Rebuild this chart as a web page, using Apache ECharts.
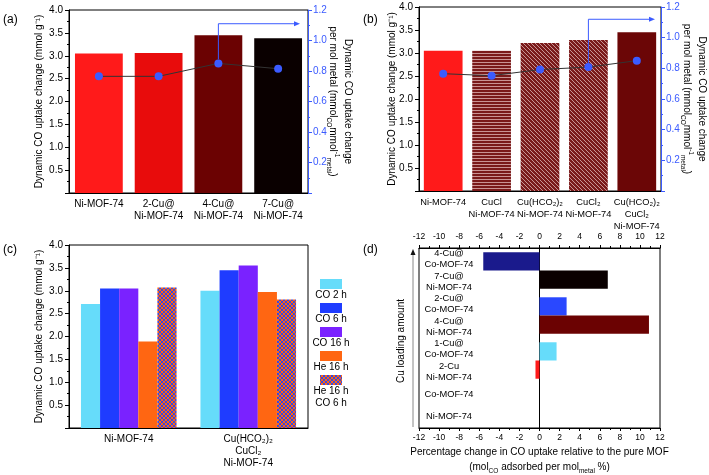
<!DOCTYPE html>
<html><head><meta charset="utf-8">
<script src="https://cdn.jsdelivr.net/npm/echarts@6/dist/echarts.min.js"></script>
<style>html,body{margin:0;padding:0;background:#fff}#c{width:709px;height:475px}</style>
</head><body><div id="c"></div>
<script>
// ---------- data ----------
const aCats = ['Ni-MOF-74', '2-Cu@\nNi-MOF-74', '4-Cu@\nNi-MOF-74', '7-Cu@\nNi-MOF-74'];
const aBars = [3.05, 3.06, 3.45, 3.38];
const aPerMetal = [0.765, 0.765, 0.85, 0.815];
const aColors = ['#ff1a1a', '#e80c0c', '#6b0202', '#0a0000'];

const bCats = ['Ni-MOF-74', 'CuCl\nNi-MOF-74', 'Cu(HCO₂)₂\nNi-MOF-74', 'CuCl₂\nNi-MOF-74', 'Cu(HCO₂)₂\nCuCl₂\nNi-MOF-74'];
const bBars = [3.05, 3.05, 3.22, 3.28, 3.45];
const bPerMetal = [0.765, 0.752, 0.792, 0.808, 0.85];
const bColors = ['#ff1a1a', '#7a1a1a', '#7a1a1a', '#7a1a1a', '#6b0606'];
const bPatterns = ['none', 'horizontal', 'diagonal', 'diagonal', 'none'];

const cCats = ['Ni-MOF-74', 'Cu(HCO₂)₂\nCuCl₂\nNi-MOF-74'];
const cNames = ['CO 2 h', 'CO 6 h', 'CO 16 h', 'He 16 h', 'He 16 h\nCO 6 h'];
const cCO2h = [2.71, 3.00];
const cCO6h = [3.05, 3.45];
const cCO16h = [3.05, 3.55];
const cHe16h = [1.89, 2.97];
const cHeCO = [3.07, 2.81];
const cColors = ['#66dcfa', '#1f3cff', '#7a22ff', '#ff6612', '#ff6612'];

// bottom to top
const dLabels = ['Ni-MOF-74', 'Co-MOF-74', '2-Cu\nNi-MOF-74', '1-Cu@\nCo-MOF-74', '4-Cu@\nNi-MOF-74', '2-Cu@\nCo-MOF-74', '7-Cu@\nNi-MOF-74', '4-Cu@\nCo-MOF-74'];
const dValues = [0, 0, -0.4, 1.7, 10.9, 2.7, 6.8, -5.6];
const dColors = ['#ff1a1a', '#66dcfa', '#ff1a1a', '#66dcfa', '#6b0202', '#2a48ff', '#0a0000', '#1a1a8c'];

const arrowLevelA = 1.11, arrowLevelB = 1.12;

// ---------- helpers ----------
const FF = '"Liberation Sans", Arial, Helvetica, sans-serif';
const BLUE = '#3b5bff';
const A = {left: 69, top: 10, width: 239, height: 183};
const B = {left: 419, top: 7, width: 242, height: 184};
const C = {left: 69, top: 245, width: 239, height: 183};
const D = {left: 419, top: 248, width: 241, height: 180};

function pattern(kind, bg, fg) {
  const cv = document.createElement('canvas');
  const n = kind === 'horizontal' ? 3 : 4;
  cv.width = n; cv.height = n;
  const g = cv.getContext('2d');
  g.fillStyle = bg; g.fillRect(0, 0, n, n);
  g.fillStyle = fg;
  if (kind === 'horizontal') g.fillRect(0, 2, n, 1);
  else if (kind === 'diagonal') { for (let i = 0; i < n; i++) g.fillRect(i, i, 1, 1); }
  else if (kind === 'cross') { for (let i = 0; i < n; i++) { g.fillRect(i, i, 1, 1); g.fillRect(n - 1 - i, i, 1, 1); } }
  return {image: cv, repeat: 'repeat'};
}

const lbl = {fontSize: 10, color: '#000', fontFamily: FF};
function leftAxis(gi, name, gap) {
  return {
    gridIndex: gi, type: 'value', position: 'left', min: 0, max: 4, interval: 0.5,
    axisLine: {show: true, lineStyle: {color: '#000'}},
    axisTick: {show: true, inside: false, length: 4, lineStyle: {color: '#000'}},
    minorTick: {show: true, splitNumber: 2, length: 2, lineStyle: {color: '#000'}},
    splitLine: {show: false},
    axisLabel: Object.assign({margin: 6, formatter: v => v === 0 ? '' : v.toFixed(1)}, lbl),
    name: name, nameLocation: 'middle', nameRotate: 90, nameGap: gap, nameMoveOverlap: false,
    nameTextStyle: Object.assign({}, lbl)
  };
}
const rightName = '{t|Dynamic CO uptake change}\n{t|per mol metal (mmol}{s|CO}{t|mmol}{u|-1}{s|metal}{t|)}';
const richName = {
  t: {fontSize: 10, lineHeight: 15, fontFamily: FF, color: '#000'},
  s: {fontSize: 6.5, lineHeight: 8, fontFamily: FF, color: '#000', verticalAlign: 'bottom'},
  u: {fontSize: 6.5, lineHeight: 8, fontFamily: FF, color: '#000', verticalAlign: 'top'}
};
function rightAxis(gi, gap) {
  return {
    gridIndex: gi, type: 'value', position: 'right', min: 0, max: 1.2, interval: 0.2,
    axisLine: {show: true, lineStyle: {color: BLUE}},
    axisTick: {show: true, inside: false, length: 4, lineStyle: {color: BLUE}},
    minorTick: {show: true, splitNumber: 2, length: 2, lineStyle: {color: BLUE}},
    splitLine: {show: false},
    axisLabel: {fontSize: 10, color: BLUE, fontFamily: FF, margin: 5, formatter: v => v === 0 ? '' : v.toFixed(1)},
    name: rightName, nameLocation: 'middle', nameRotate: -90, nameGap: gap, nameMoveOverlap: false,
    nameTextStyle: {rich: richName, fontSize: 10, fontFamily: FF, color: '#000'}
  };
}
function catAxis(gi, data, fs) {
  return {
    gridIndex: gi, type: 'category', data: data,
    axisLine: {show: true, lineStyle: {color: '#000'}}, axisTick: {show: false},
    axisLabel: Object.assign({}, lbl, {margin: 5, lineHeight: 12, interval: 0, fontSize: fs || 10})
  };
}
function dValAxis(pos) {
  return {
    gridIndex: 3, type: 'value', position: pos, min: -12, max: 12, interval: 2,
    axisLine: {show: true, onZero: false, lineStyle: {color: '#000'}},
    axisTick: {show: true, inside: false, length: 3, lineStyle: {color: '#000'}},
    minorTick: {show: true, splitNumber: 2, length: 2, lineStyle: {color: '#000'}},
    splitLine: {show: false},
    axisLabel: {fontSize: 8.5, color: '#000', fontFamily: FF, margin: pos === 'top' ? 7 : 5}
  };
}
const gridBase = {show: true, borderColor: '#000', borderWidth: 1, backgroundColor: 'transparent', containLabel: false, outerBoundsMode: 'none'};

const chart = echarts.init(document.getElementById('c'), null, {renderer: 'canvas'});

const cVals = [cCO2h, cCO6h, cCO16h, cHe16h, cHeCO];
const dUpper = [], dLower = [];
for (let k = 0; k < 4; k++) {
  dLower.push({value: dValues[2 * k], itemStyle: {color: dColors[2 * k]}});
  dUpper.push({value: dValues[2 * k + 1], itemStyle: {color: dColors[2 * k + 1]}});
}

const option = {
  animation: false,
  backgroundColor: '#fff',
  textStyle: {fontFamily: FF},
  grid: [Object.assign({}, gridBase, A), Object.assign({}, gridBase, B), Object.assign({}, gridBase, C), Object.assign({}, gridBase, D)],
  xAxis: [catAxis(0, aCats), catAxis(1, bCats, 9.3), catAxis(2, cCats),
    Object.assign(dValAxis('bottom'), {
      name: 'Percentage change in CO uptake relative to the pure MOF\n(mol{s|CO} adsorbed per mol{s|metal} %)',
      nameLocation: 'middle', nameGap: 17,
      nameTextStyle: {fontSize: 10, lineHeight: 15, fontFamily: FF, color: '#000',
        rich: {s: {fontSize: 6.5, lineHeight: 8, fontFamily: FF, color: '#000', verticalAlign: 'bottom'}}}
    }),
    dValAxis('top')],
  yAxis: [
    leftAxis(0, 'Dynamic CO uptake change (mmol g⁻¹)', 25), rightAxis(0, 17),
    leftAxis(1, 'Dynamic CO uptake change (mmol g⁻¹)', 22), rightAxis(1, 18),
    leftAxis(2, 'Dynamic CO uptake change (mmol g⁻¹)', 25),
    {gridIndex: 3, type: 'category', data: ['p0', 'p1', 'p2', 'p3'], position: 'left',
      axisLine: {show: true, onZero: true, lineStyle: {color: '#000'}}, axisTick: {show: false}, axisLabel: {show: false}},
    {gridIndex: 3, type: 'category', data: dLabels, position: 'left',
      axisLine: {show: false, onZero: false}, axisTick: {show: false},
      axisLabel: {inside: true, margin: 30, align: 'center', fontSize: 9.3, lineHeight: 11, color: '#000', fontFamily: FF, interval: 0}}
  ],
  series: [
    {type: 'bar', xAxisIndex: 0, yAxisIndex: 0, barCategoryGap: '20%',
      data: aBars.map((v, i) => ({value: v, itemStyle: {color: aColors[i]}}))},
    {type: 'line', xAxisIndex: 0, yAxisIndex: 1, data: aPerMetal, symbol: 'circle', symbolSize: 8,
      itemStyle: {color: BLUE}, lineStyle: {color: '#333', width: 1}, z: 5},
    {type: 'bar', xAxisIndex: 1, yAxisIndex: 2, barCategoryGap: '20%',
      data: bBars.map((v, i) => ({value: v, itemStyle: {color: bPatterns[i] === 'none' ? bColors[i] : pattern(bPatterns[i], bColors[i], '#c99494')}}))},
    {type: 'line', xAxisIndex: 1, yAxisIndex: 3, data: bPerMetal, symbol: 'circle', symbolSize: 8,
      itemStyle: {color: BLUE}, lineStyle: {color: '#333', width: 1}, z: 5},
    ...cVals.map((vals, i) => ({type: 'bar', name: cNames[i], xAxisIndex: 2, yAxisIndex: 4, barGap: '0%', barCategoryGap: '20%',
      data: vals, itemStyle: {color: i === 4 ? pattern('cross', cColors[i], '#3a48e0') : cColors[i]}})),
    {type: 'bar', xAxisIndex: 3, yAxisIndex: 5, barGap: '0%', barCategoryGap: '19%', data: dUpper},
    {type: 'bar', xAxisIndex: 3, yAxisIndex: 5, barGap: '0%', barCategoryGap: '19%', data: dLower}
  ]
};
chart.setOption(option);

// ---------- annotations ----------
const g = [];
function arrow(xi, yi, idx, val, level, xEnd) {
  const p = chart.convertToPixel({xAxisIndex: xi, yAxisIndex: yi}, [idx, val]);
  const q = chart.convertToPixel({xAxisIndex: xi, yAxisIndex: yi}, [idx, level]);
  g.push({type: 'polyline', z: 100, shape: {points: [[p[0], p[1] - 4], [p[0], q[1]], [xEnd - 5, q[1]]]},
    style: {stroke: BLUE, lineWidth: 1, fill: null}});
  g.push({type: 'polygon', z: 100, shape: {points: [[xEnd, q[1]], [xEnd - 6, q[1] - 2.5], [xEnd - 6, q[1] + 2.5]]},
    style: {fill: BLUE}});
}
arrow(0, 1, 2, aPerMetal[2], arrowLevelA, A.left + A.width - 8);
arrow(1, 3, 3, bPerMetal[3], arrowLevelB, B.left + B.width - 6);

[['(a)', 3, 20], ['(b)', 363, 20], ['(c)', 3, 250], ['(d)', 363, 250]].forEach(t => {
  g.push({type: 'text', z: 100, x: t[1], y: t[2], style: {text: t[0], fontSize: 12, fontFamily: FF, fill: '#000', textVerticalAlign: 'middle'}});
});

// legend for (c)
cNames.forEach((n, i) => {
  const top = 279 + i * 24;
  g.push({type: 'rect', z: 100, shape: {x: 320, y: top, width: 22, height: 10},
    style: {fill: i === 4 ? pattern('cross', cColors[i], '#3a48e0') : cColors[i]}});
  g.push({type: 'text', z: 100, x: 331, y: top + 10, style: {text: n, fontSize: 10, lineHeight: 12, fontFamily: FF, fill: '#000', textAlign: 'center', textVerticalAlign: 'top'}});
});

// Cu loading arrow (d)
g.push({type: 'line', z: 100, shape: {x1: 413, y1: D.top + D.height - 1, x2: 413, y2: D.top + 6}, style: {stroke: '#888', lineWidth: 1}});
g.push({type: 'polygon', z: 100, shape: {points: [[413, D.top + 1], [410.5, D.top + 7], [415.5, D.top + 7]]}, style: {fill: '#111'}});
g.push({type: 'text', z: 100, x: 401, y: D.top + D.height / 2 + 3, rotation: Math.PI / 2,
  style: {text: 'Cu loading amount', fontSize: 10, fontFamily: FF, fill: '#000', textAlign: 'center', textVerticalAlign: 'middle'}});

chart.setOption({graphic: {elements: g}});
</script>
</body></html>
